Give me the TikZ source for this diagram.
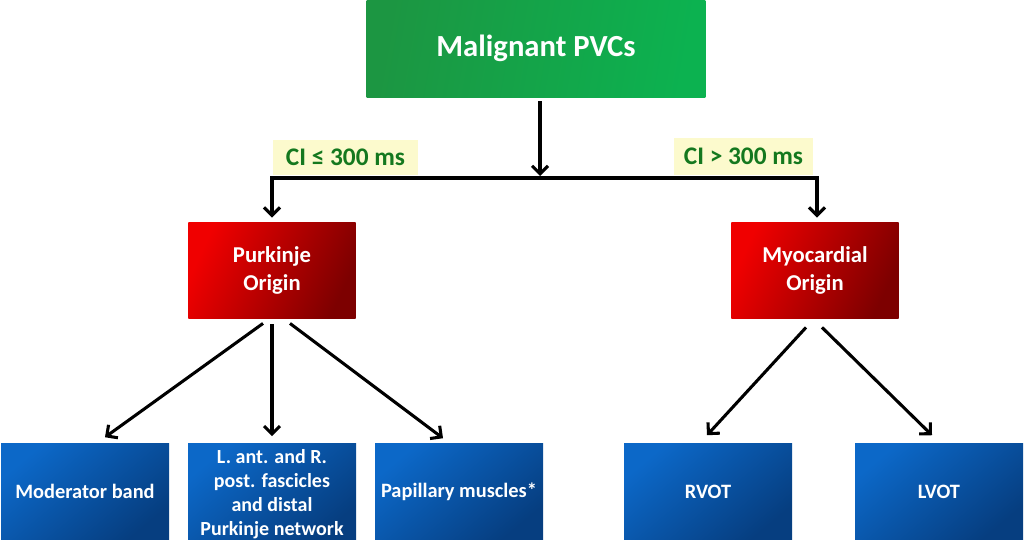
\documentclass[tikz,border=0pt]{standalone}
\usepackage{fontspec}
\setmainfont{Carlito}
\usetikzlibrary{arrows.meta,calc}
\definecolor{gL}{RGB}{28,150,66}
\definecolor{gR}{RGB}{12,178,80}
\definecolor{rL}{RGB}{240,0,0}
\definecolor{rR}{RGB}{125,0,0}
\definecolor{bT}{RGB}{12,104,200}
\definecolor{bB}{RGB}{6,62,128}
\definecolor{lblbg}{RGB}{252,250,205}
\definecolor{lbltxt}{RGB}{20,120,30}
\tikzset{
  box/.style={draw=none, text=white, align=center, font=\bfseries\fontsize{17}{20.5}\selectfont, inner sep=0pt},
  greenbox/.style={box, left color=gL, right color=gR, shading angle=80, minimum width=254pt, minimum height=73pt, font=\bfseries\fontsize{23}{28}\selectfont},
  redbox/.style={box, left color=rL, right color=rR, shading angle=65, minimum width=125.5pt, minimum height=71.5pt},
  bluebox/.style={box, top color=bT, bottom color=bB, shading angle=40, minimum width=126pt, minimum height=72pt, font=\bfseries\fontsize{15.3}{19.5}\selectfont},
  lbl/.style={fill=lblbg, text=lbltxt, font=\bfseries\fontsize{19}{22}\selectfont, inner sep=0pt},
  arr/.style={line width=2.3pt, -{Straight Barb[length=6pt,width=12pt]}},
}
\begin{document}
\begin{tikzpicture}[x=0.75pt,y=-0.75pt]
\useasboundingbox (0,0) rectangle (1024,543);
\node[greenbox] (M) at (536,48.5) {Malignant PVCs};
\node[redbox] (P) at (272,270.5) {Purkinje\\Origin};
\node[redbox] (Y) at (815,270.5) {Myocardial\\Origin};
\node[bluebox] (B1) at (85,491.5) {Moderator band};
\node[bluebox] (B2) at (272,491.5) {\fontsize{15}{17.8}\selectfont\raisebox{-6pt}[0pt][0pt]{\begin{tabular}{@{}c@{}}L. ant. and R.\\post. fascicles\\and distal\\Purkinje network\end{tabular}}};
\node[bluebox] (B3) at (459,491.5) {Papillary muscles*};
\node[bluebox] (B4) at (708,491.5) {RVOT};
\node[bluebox] (B5) at (939,491.5) {LVOT};
\node[lbl, minimum width=109pt, minimum height=26pt] (L1) at (345.5,157.5) {CI ≤ 300 ms};
\node[lbl, minimum width=104pt, minimum height=27.5pt] (L2) at (743.5,156.5) {CI > 300 ms};
\coordinate (bar) at (540,178);
\draw[arr] ($(M.south)+(4,4)$) -- ($(bar)+(0,-2)$);
\draw[arr] ($(bar)+(1,0)$) -| ($(P.north)+(0,-5)$);
\draw[arr] ($(bar)+(-1,0)$) -| ($(Y.north)+(2,-5)$);
\draw[arr] ($(P.south)+(-9,5)$) -- ($(B1.north)+(20,-6)$);
\draw[arr] ($(P.south)+(0,6)$) -- ($(B2.north)+(0,-7)$);
\draw[arr] ($(P.south)+(18,5)$) -- ($(B3.north)+(-16,-5)$);
\draw[arr] ($(Y.south)+(-9,9)$) -- ($(B4.north)+(-1,-8)$);
\draw[arr] ($(Y.south)+(7,9)$) -- ($(B5.north)+(-7,-8)$);
\end{tikzpicture}
\end{document}
